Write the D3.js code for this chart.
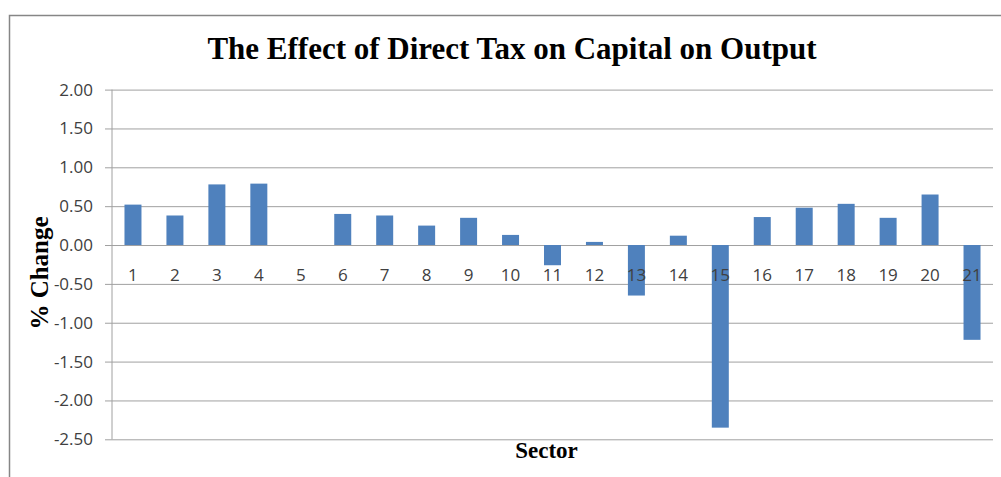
<!DOCTYPE html>
<html>
<head>
<meta charset="utf-8">
<script src="https://cdn.jsdelivr.net/npm/d3@7"></script>
<style>
  html, body { margin: 0; padding: 0; background: #fff; }
  svg { display: block; }
</style>
</head>
<body>
<svg id="chart" width="1001" height="477"></svg>
<script>
// Sector numbers and the % change in output for each sector
const sectors = ["1","2","3","4","5","6","7","8","9","10","11","12","13","14","15","16","17","18","19","20","21"];
const changes = [0.52, 0.38, 0.78, 0.79, 0.00, 0.40, 0.38, 0.25, 0.35, 0.13, -0.26, 0.04, -0.65, 0.12, -2.35, 0.36, 0.48, 0.53, 0.35, 0.65, -1.22];
const yTicks = [2.0, 1.5, 1.0, 0.5, 0.0, -0.5, -1.0, -1.5, -2.0, -2.5];

const svg = d3.select("#chart");
const W = 1001, H = 477;
const plot = { left: 112, right: 993, top: 89.6, bottom: 439.3 };
const labelFont = "'Open Sans', sans-serif";
const titleFont = "'Liberation Serif', 'Times New Roman', serif";

// Chart area frame
svg.append("rect")
  .attr("x", 9.5).attr("y", 15.5)
  .attr("width", W + 10).attr("height", H + 10)
  .attr("fill", "#fff")
  .attr("stroke", "#868686").attr("stroke-width", 1.5);

const x = d3.scaleBand().domain(sectors).range([plot.left, plot.right]).padding(0);
const y = d3.scaleLinear().domain([-2.5, 2.0]).range([plot.bottom, plot.top]);

// Horizontal gridlines with short outside ticks
const yAxis = d3.axisLeft(y)
  .tickValues(yTicks)
  .tickFormat(d => d.toFixed(2))
  .tickSize(-(plot.right - plot.left))
  .tickPadding(19);

const gy = svg.append("g")
  .attr("transform", `translate(${plot.left},0)`)
  .call(yAxis);
gy.select(".domain").remove();
gy.selectAll(".tick line")
  .attr("x1", -7)
  .attr("stroke", "#a0a0a0")
  .attr("stroke-width", 1);
gy.selectAll(".tick text")
  .attr("fill", "#404040")
  .style("font-family", labelFont)
  .style("font-size", "17px");

// Vertical axis line
svg.append("line")
  .attr("x1", plot.left).attr("x2", plot.left)
  .attr("y1", plot.top).attr("y2", plot.bottom)
  .attr("stroke", "#a0a0a0").attr("stroke-width", 1);

// Bars
const barFrac = 0.405;
svg.append("g").selectAll("rect")
  .data(changes)
  .join("rect")
  .attr("x", (d, i) => x(sectors[i]) + x.bandwidth() * (1 - barFrac) / 2)
  .attr("width", x.bandwidth() * barFrac)
  .attr("y", d => y(Math.max(0, d)))
  .attr("height", d => Math.abs(y(d) - y(0)))
  .attr("fill", "#4f81bd");

// Category labels sit just below the zero line
const xAxis = d3.axisBottom(x).tickSize(0).tickPadding(24);
const gx = svg.append("g")
  .attr("transform", `translate(0,${y(0)})`)
  .call(xAxis);
gx.select(".domain").remove();
gx.selectAll(".tick text")
  .attr("fill", "#404040")
  .style("font-family", labelFont)
  .style("font-size", "17px");

// Title
svg.append("text")
  .attr("x", 512).attr("y", 59)
  .attr("text-anchor", "middle")
  .style("font-family", titleFont)
  .style("font-weight", "bold")
  .style("font-size", "31px")
  .attr("fill", "#000")
  .text("The Effect of Direct Tax on Capital on Output");

// Axis titles
svg.append("text")
  .attr("transform", "translate(47.5,273) rotate(-90)")
  .attr("text-anchor", "middle")
  .style("font-family", titleFont)
  .style("font-weight", "bold")
  .style("font-size", "25px")
  .attr("fill", "#000")
  .text("% Change");

svg.append("text")
  .attr("x", 546.5).attr("y", 458)
  .attr("text-anchor", "middle")
  .style("font-family", titleFont)
  .style("font-weight", "bold")
  .style("font-size", "23px")
  .attr("fill", "#000")
  .text("Sector");
</script>
</body>
</html>
